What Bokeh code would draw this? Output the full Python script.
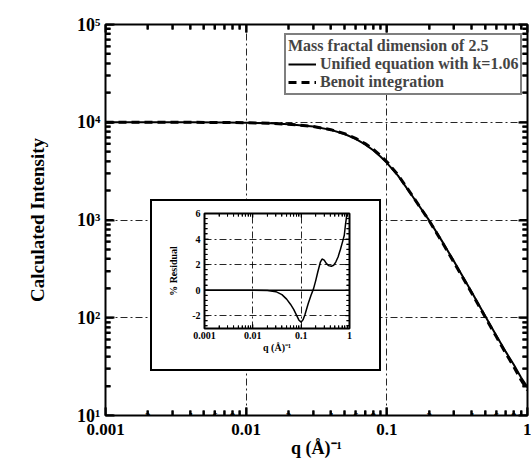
import math
from jinja2 import Template
from bokeh.plotting import figure
from bokeh.core.properties import value
from bokeh.models import (FixedTicker, Range1d, Span, Legend, LegendItem,
                          LabelSet, ColumnDataSource, LogAxis, LinearAxis)
from bokeh.embed import file_html
from bokeh.resources import INLINE

# ---------------- data ----------------
q_main = [0.001, 0.002, 0.004, 0.007, 0.01, 0.015, 0.02, 0.03, 0.04, 0.05,
          0.06, 0.07, 0.08, 0.09, 0.1, 0.12, 0.15, 0.2, 0.25, 0.3, 0.4,
          0.5, 0.6, 0.7, 0.8, 0.9, 1.0]
i_unified = [10000, 9995, 9982, 9944, 9887, 9747, 9555, 9030, 8353, 7577,
             6756, 5939, 5166, 4465, 3842, 2844, 1800, 990, 590, 378, 184,
             104, 66, 45, 33, 24.5, 19.5]
i_benoit = [10000, 9995, 9982, 9944, 9887, 9747, 9555, 9048, 8395, 7646,
            6848, 6048, 5282, 4577, 3941, 2899, 1815, 984, 577, 369.5, 180.6,
            101.9, 64.1, 43.4, 31.5, 23.1, 18.2]

q_res = [0.001, 0.01, 0.02, 0.03, 0.04, 0.05, 0.06, 0.07, 0.08, 0.09, 0.1,
         0.11, 0.12, 0.14, 0.16, 0.18, 0.2, 0.22, 0.25, 0.27, 0.3, 0.33,
         0.37, 0.42, 0.47, 0.52, 0.58, 0.65, 0.72, 0.78, 0.83, 0.88, 0.93, 1.0]
residual = [0, 0, -0.02, -0.12, -0.35, -0.7, -1.1, -1.5, -1.95, -2.35, -2.5,
            -2.3, -1.9, -1.05, -0.4, 0.1, 0.75, 1.4, 2.2, 2.44, 2.35, 2.1,
            1.92, 1.87, 1.95, 2.2, 2.6, 3.2, 3.8, 4.3, 5.2, 5.9, 6.7, 7.5]

x_decades = [0.001, 0.01, 0.1, 1.0]
x_decade_labels = ["0.001", "0.01", "0.1", "1"]
x_minor_mults = [2, 4, 6, 8]
inset_label_mults = [2, 4]
all_mults = [2, 3, 4, 5, 6, 7, 8, 9]
y_decades = [10, 100, 1000, 10000, 100000]
y_decade_labels = ["10\u00b9", "10\u00b2", "10\u00b3", "10\u2074", "10\u2075"]
res_range = [-3, 6]
res_ticks = [-2, 0, 2, 4, 6]
res_tick_labels = ["-2", "0", "2", "4", "6"]
res_minor = [-2.8, -2.4, -1.6, -1.2, -0.8, -0.4, 0.4, 0.8, 1.2, 1.6, 2.4, 2.8,
             3.2, 3.6, 4.4, 4.8, 5.2, 5.6]

FONT = "Liberation Serif"
GRID_DASH = "7 3 2 3"


def mults(ms, decs):
    return [round(m * d, 6) for d in decs[:-1] for m in ms]


def style_axis(ax, tin, tmin, lw):
    ax.major_tick_in = tin
    ax.major_tick_out = 0
    ax.minor_tick_in = tmin
    ax.minor_tick_out = 0
    ax.major_tick_line_color = "black"
    ax.minor_tick_line_color = "black"
    ax.major_tick_line_width = lw
    ax.minor_tick_line_width = lw
    ax.axis_line_color = None
    ax.major_label_text_font = FONT
    ax.major_label_text_font_style = "bold"
    ax.major_label_text_color = "black"
    ax.axis_label_text_font = FONT
    ax.axis_label_text_font_style = "bold"
    ax.axis_label_text_color = "black"


def blank_axis(ax, ticks):
    ax.major_label_overrides = {t: " " for t in ticks}
    ax.major_label_text_font_size = "2px"
    ax.major_label_standoff = 0


def inward_ticks(fig, xs_major, xs_minor, ys_major, ys_minor, x_edges, y_edges,
                 lmaj, lmin, lw):
    # tick marks centred on the frame edges; the frame clips the outer half
    for ye in y_edges:
        fig.scatter(xs_major, [ye] * len(xs_major), marker="dash",
                    angle=math.pi / 2, size=2 * lmaj, line_color="black",
                    line_width=lw)
        fig.scatter(xs_minor, [ye] * len(xs_minor), marker="dash",
                    angle=math.pi / 2, size=2 * lmin, line_color="black",
                    line_width=lw)
    for xe in x_edges:
        fig.scatter([xe] * len(ys_major), ys_major, marker="dash",
                    size=2 * lmaj, line_color="black", line_width=lw)
        fig.scatter([xe] * len(ys_minor), ys_minor, marker="dash",
                    size=2 * lmin, line_color="black", line_width=lw)


x_minor_all = mults(all_mults, x_decades)
y_minor_all = mults(all_mults, y_decades)

# ---------------- main figure ----------------
p = figure(width=531, height=460, x_axis_type="log", y_axis_type="log",
           x_range=Range1d(x_decades[0], x_decades[-1]),
           y_range=Range1d(y_decades[0], y_decades[-1]),
           output_backend="svg", toolbar_location=None, name="main",
           min_border_left=105, min_border_right=4, min_border_top=24,
           min_border_bottom=45)
p.outline_line_color = "black"
p.outline_line_width = 2

xa = p.xaxis[0]
xa.ticker = FixedTicker(ticks=x_decades, minor_ticks=x_minor_all)
xa.major_label_overrides = dict(zip(x_decades, x_decade_labels))
style_axis(xa, 8, 5, 2)
xa.major_label_text_font_size = "17px"
xa.major_label_standoff = 8
xa.axis_label = "q (\u00c5)\u207b\u00b9"
xa.axis_label_text_font_size = "18px"
xa.axis_label_standoff = 0

xt = LogAxis(ticker=FixedTicker(ticks=x_decades, minor_ticks=x_minor_all))
style_axis(xt, 8, 5, 2)
blank_axis(xt, x_decades)
p.add_layout(xt, "above")

small_x = mults(x_minor_mults, x_decades)
small_src = ColumnDataSource(dict(
    x=small_x, y=[y_decades[0]] * len(small_x),
    t=[str(m) for d in x_decades[:-1] for m in x_minor_mults]))
p.add_layout(LabelSet(source=small_src, x="x", y="y", text="t",
                      text_font=value(FONT), text_font_style="bold",
                      text_font_size="11px", text_align="center",
                      text_baseline="middle", y_offset=-1,
                      text_color="black"))

ya = p.yaxis[0]
ya.ticker = FixedTicker(ticks=y_decades, minor_ticks=y_minor_all)
ya.major_label_overrides = dict(zip(y_decades, y_decade_labels))
style_axis(ya, 9, 5, 2)
ya.major_label_text_font_size = "18px"
ya.major_label_standoff = 5
ya.axis_label = "Calculated Intensity"
ya.axis_label_text_font_size = "19px"
ya.axis_label_standoff = 26

yr = LogAxis(ticker=FixedTicker(ticks=y_decades, minor_ticks=y_minor_all))
style_axis(yr, 9, 5, 2)
blank_axis(yr, y_decades)
p.add_layout(yr, "right")

p.xgrid.ticker = FixedTicker(ticks=x_decades[1:-1])
p.ygrid.ticker = FixedTicker(ticks=y_decades[1:-1])
for g in (p.xgrid[0], p.ygrid[0]):
    g.grid_line_color = "black"
    g.grid_line_width = 1
    g.grid_line_dash = GRID_DASH
    g.grid_line_alpha = 0.85

inward_ticks(p, x_decades, x_minor_all, y_decades, y_minor_all,
             [x_decades[0], x_decades[-1]], [y_decades[0], y_decades[-1]],
             8, 5, 2)

r_uni = p.line(q_main, i_unified, line_color="black", line_width=2)
r_ben = p.line(q_main, i_benoit, line_color="black", line_width=3,
               line_dash="8 5")

legend = Legend(items=[LegendItem(label="Unified equation with k=1.06", renderers=[r_uni]),
                       LegendItem(label="Benoit integration", renderers=[r_ben])],
                title="Mass fractal dimension of 2.5",
                location=(179, 320))
legend.title_text_font = FONT
legend.title_text_font_style = "bold"
legend.title_text_font_size = "16px"
legend.title_standoff = 0
legend.label_text_font = FONT
legend.label_text_font_style = "bold"
legend.label_text_font_size = "16px"
legend.label_height = 14
legend.glyph_height = 14
legend.glyph_width = 28
legend.label_standoff = 4
legend.spacing = 0
legend.padding = 2
legend.margin = 0
legend.border_line_color = "black"
legend.border_line_width = 2
legend.background_fill_alpha = 1
p.add_layout(legend, "center")

# ---------------- inset ----------------
ins = figure(width=231, height=172, x_axis_type="log",
             x_range=Range1d(x_decades[0], x_decades[-1]),
             y_range=Range1d(res_range[0], res_range[1]),
             output_backend="svg", toolbar_location=None, name="inset",
             min_border_left=54, min_border_right=32, min_border_top=14,
             min_border_bottom=43)
ins.background_fill_color = "white"
ins.border_fill_color = "white"
ins.outline_line_color = "black"
ins.outline_line_width = 2

ia = ins.xaxis[0]
ia.ticker = FixedTicker(ticks=x_decades, minor_ticks=x_minor_all)
ia.major_label_overrides = dict(zip(x_decades, x_decade_labels))
style_axis(ia, 4, 3, 1)
ia.major_label_text_font_size = "10px"
ia.major_label_standoff = 3
ia.axis_label = "q (\u00c5)\u207b\u00b9"
ia.axis_label_text_font_size = "10px"
ia.axis_label_standoff = 0

ita = LogAxis(ticker=FixedTicker(ticks=x_decades, minor_ticks=x_minor_all))
style_axis(ita, 4, 3, 1)
blank_axis(ita, x_decades)
ins.add_layout(ita, "above")

ismall_x = mults(inset_label_mults, x_decades)
ismall_src = ColumnDataSource(dict(
    x=ismall_x, y=[res_range[0]] * len(ismall_x),
    t=[str(m) for d in x_decades[:-1] for m in inset_label_mults]))
ins.add_layout(LabelSet(source=ismall_src, x="x", y="y", text="t",
                        text_font=value(FONT), text_font_style="bold",
                        text_font_size="7px", text_align="center",
                        text_baseline="top", y_offset=-2,
                        text_color="black"))

iya = ins.yaxis[0]
iya.ticker = FixedTicker(ticks=res_ticks, minor_ticks=res_minor)
iya.major_label_overrides = dict(zip(res_ticks, res_tick_labels))
style_axis(iya, 4, 3, 1)
iya.major_label_text_font_size = "10px"
iya.major_label_standoff = 4
iya.axis_label = "% Residual"
iya.axis_label_text_font_size = "10px"
iya.axis_label_standoff = 10

iyr = LinearAxis(ticker=FixedTicker(ticks=res_ticks, minor_ticks=res_minor))
style_axis(iyr, 4, 3, 1)
blank_axis(iyr, res_ticks)
ins.add_layout(iyr, "right")

ins.xgrid.ticker = FixedTicker(ticks=x_decades[1:-1])
ins.ygrid.ticker = FixedTicker(ticks=[-2, 2, 4])
for g in (ins.xgrid[0], ins.ygrid[0]):
    g.grid_line_color = "black"
    g.grid_line_width = 1
    g.grid_line_dash = GRID_DASH
    g.grid_line_alpha = 0.85

inward_ticks(ins, x_decades, x_minor_all, res_ticks, res_minor,
             [x_decades[0], x_decades[-1]], res_range, 4, 3, 1)

ins.add_layout(Span(location=0, dimension="width", line_color="black",
                    line_width=1.5))
ins.line(q_res, residual, line_color="black", line_width=1.5)

# page: the inset is laid over the main chart
TEMPLATE = Template("""{% from macros import embed %}<!DOCTYPE html>
<html lang="en">
<head>
<meta charset="utf-8">
<title>{{ title }}</title>
{{ bokeh_css }}
{{ bokeh_js }}
<style>
html, body { margin: 0; padding: 0; }
#main-wrap { position: absolute; left: 0px; top: 0px; width: 531px; height: 460px; }
#inset-wrap { position: absolute; left: 150px; top: 199px; width: 231px; height: 172px; }
#inset-frame { position: absolute; left: 150px; top: 199px; width: 231px; height: 172px;
               box-shadow: inset 0 0 0 2px black; pointer-events: none; }
</style>
</head>
<body>
<div id="main-wrap">{{ embed(roots.main) }}</div>
<div id="inset-wrap">{{ embed(roots.inset) }}</div>
<div id="inset-frame"></div>
{{ plot_script }}
</body>
</html>""")

open("out.html", "w").write(file_html([p, ins], INLINE, template=TEMPLATE))
